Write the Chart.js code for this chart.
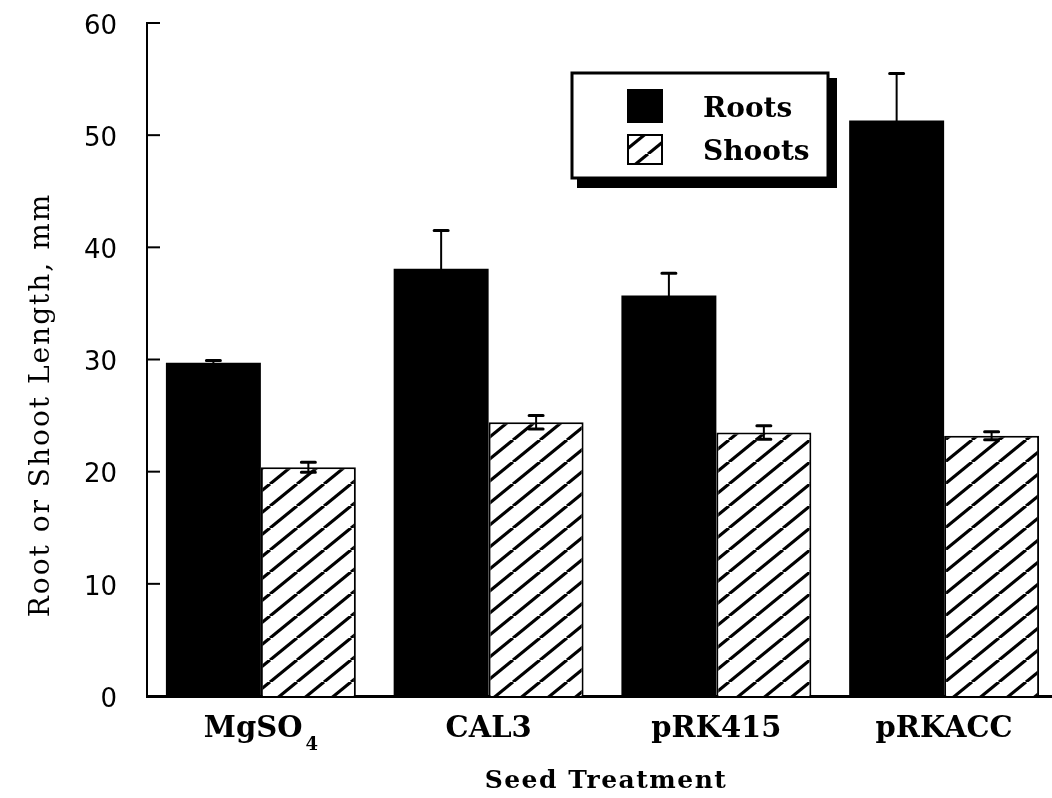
<!DOCTYPE html>
<html>
<head>
<meta charset="utf-8">
<script src="https://cdn.jsdelivr.net/npm/chart.js@4.4.1/dist/chart.umd.min.js"></script>
<style>
  html, body { margin: 0; padding: 0; background: #fff; overflow: hidden; }
  #wrap { position: relative; width: 1058px; height: 798px; }
</style>
</head>
<body>
<div id="wrap"><canvas id="chart"></canvas></div>
<script>
'use strict';

// Seed treatments; "_" marks the start of a subscript
let treatments = ['MgSO_4', 'CAL3', 'pRK415', 'pRKACC'];
let rootLengths = [29.7, 38.1, 35.7, 51.3];
let rootErrors = [0.2, 3.4, 2.0, 4.2];
let shootLengths = [20.4, 24.4, 23.5, 23.2];
let shootErrors = [0.45, 0.6, 0.6, 0.35];
let yTicks = [0, 10, 20, 30, 40, 50, 60];

let serif = '"DejaVu Serif", serif';
let sans = '"DejaVu Sans", sans-serif';

let canvasElem = document.getElementById('chart');

// diagonal hatch used for the shoots bars
function makeHatch() {
  let tile = document.createElement('canvas');
  let w = 27, h = 22;
  tile.width = w;
  tile.height = h;
  let c = tile.getContext('2d');
  c.fillStyle = '#fff';
  c.fillRect(0, 0, w, h);
  c.strokeStyle = '#000';
  c.lineWidth = 3.2;
  for (let dx of [-w, 0, w]) {
    c.beginPath();
    c.moveTo(dx, h);
    c.lineTo(dx + w, 0);
    c.stroke();
  }
  return c.createPattern(tile, 'repeat');
}

let hatch = makeHatch();

let errorBars = {
  id: 'errorBars',
  afterDatasetsDraw(chart) {
    let ctx = chart.ctx;
    let yScale = chart.scales.y;
    ctx.save();
    ctx.strokeStyle = '#000';
    chart.data.datasets.forEach((ds, i) => {
      let meta = chart.getDatasetMeta(i);
      meta.data.forEach((bar, j) => {
        let v = ds.data[j];
        let e = ds.errors[j];
        let top = yScale.getPixelForValue(v + e);
        let bottom = yScale.getPixelForValue(v - e);
        ctx.lineWidth = 2;
        ctx.beginPath();
        ctx.moveTo(bar.x, top);
        ctx.lineTo(bar.x, bottom);
        ctx.stroke();
        ctx.lineWidth = 3;
        ctx.lineCap = 'round';
        ctx.beginPath();
        ctx.moveTo(bar.x - 7, top);
        ctx.lineTo(bar.x + 7, top);
        ctx.moveTo(bar.x - 7, bottom);
        ctx.lineTo(bar.x + 7, bottom);
        ctx.stroke();
        ctx.lineCap = 'butt';
      });
    });
    ctx.restore();
  }
};

// tick marks pointing into the plot, plus axis titles and category labels
let decorations = {
  id: 'decorations',
  afterDraw(chart) {
    let ctx = chart.ctx;
    let xScale = chart.scales.x;
    let yScale = chart.scales.y;
    let left = chart.chartArea.left;
    ctx.save();
    ctx.strokeStyle = '#000';
    ctx.lineWidth = 2;
    yTicks.forEach(t => {
      let py = yScale.getPixelForValue(t);
      ctx.beginPath();
      ctx.moveTo(left, py);
      ctx.lineTo(left + 13, py);
      ctx.stroke();
    });

    ctx.fillStyle = '#000';
    ctx.textBaseline = 'alphabetic';
    treatments.forEach((name, j) => {
      let parts = name.split('_');
      ctx.font = 'bold 29px ' + serif;
      let mainW = ctx.measureText(parts[0]).width;
      let subW = 0;
      if (parts[1]) {
        ctx.font = 'bold 18px ' + serif;
        subW = ctx.measureText(parts[1]).width + 3;
      }
      let cx = xScale.getPixelForValue(j);
      let x0 = cx - (mainW + subW) / 2;
      ctx.textAlign = 'left';
      ctx.font = 'bold 29px ' + serif;
      ctx.fillText(parts[0], x0, 737);
      if (parts[1]) {
        ctx.font = 'bold 18px ' + serif;
        ctx.fillText(parts[1], x0 + mainW + 3, 750);
      }
    });

    ctx.textAlign = 'center';
    ctx.font = 'bold 25px ' + serif;
    ctx.letterSpacing = '1.5px';
    ctx.fillText('Seed Treatment', 606, 788);

    ctx.save();
    ctx.translate(49, 405);
    ctx.rotate(-Math.PI / 2);
    ctx.font = '28px ' + serif;
    ctx.letterSpacing = '2px';
    ctx.fillText('Root or Shoot Length, mm', 0, 0);
    ctx.restore();
    ctx.restore();
  }
};

// boxed legend with a heavy drop shadow
let boxLegend = {
  id: 'boxLegend',
  afterDraw(chart) {
    let ctx = chart.ctx;
    let bx = 572, by = 73, bw = 256, bh = 105;
    ctx.save();
    ctx.fillStyle = '#000';
    ctx.fillRect(bx + 5, by + 5, bw + 4, bh + 5);
    ctx.fillStyle = '#fff';
    ctx.fillRect(bx, by, bw, bh);
    ctx.strokeStyle = '#000';
    ctx.lineWidth = 3;
    ctx.strokeRect(bx, by, bw, bh);

    let rows = [{ y: 90, h: 32, base: 117 }, { y: 135, h: 29, base: 160 }];
    chart.data.datasets.forEach((ds, i) => {
      let r = rows[i];
      ctx.fillStyle = ds.backgroundColor;
      ctx.fillRect(628, r.y, 34, r.h);
      ctx.lineWidth = 2;
      ctx.strokeStyle = '#000';
      ctx.strokeRect(628, r.y, 34, r.h);
      ctx.fillStyle = '#000';
      ctx.font = 'bold 28px ' + serif;
      ctx.textAlign = 'left';
      ctx.textBaseline = 'alphabetic';
      ctx.fillText(ds.label, 703, r.base);
    });
    ctx.restore();
  }
};

let chartObj = {
  type: 'bar',
  data: {
    labels: treatments,
    datasets: [{
      label: 'Roots',
      data: rootLengths,
      errors: rootErrors,
      backgroundColor: '#000',
      borderColor: '#000',
      borderWidth: 0
    },
    {
      label: 'Shoots',
      data: shootLengths,
      errors: shootErrors,
      backgroundColor: hatch,
      borderColor: '#000',
      borderWidth: 2
    }]
  },
  options: {
    responsive: true,
    maintainAspectRatio: false,
    animation: false,
    layout: {
      padding: { top: 23, left: 0, right: 0, bottom: 0 }
    },
    plugins: {
      legend: { display: false },
      tooltip: { enabled: false }
    },
    datasets: {
      bar: {
        categoryPercentage: 0.834,
        barPercentage: 1.0
      }
    },
    scales: {
      x: {
        grid: { display: false },
        border: { display: true, color: '#000', width: 3 },
        ticks: { display: false },
        afterFit: s => { s.height = 102; }
      },
      y: {
        min: 0,
        max: 60,
        grid: { display: false, drawTicks: false },
        border: { display: true, color: '#000', width: 2 },
        afterBuildTicks: s => { s.ticks = yTicks.map(v => ({ value: v })); },
        ticks: {
          color: '#000',
          padding: 30,
          labelOffset: 4,
          font: { family: sans, size: 26 }
        },
        afterFit: s => {
          s.width = 147;
          s.paddingTop = 0;
          s.paddingBottom = 0;
        }
      }
    }
  },
  plugins: [errorBars, decorations, boxLegend]
};

new Chart(canvasElem, chartObj);
</script>
</body>
</html>
